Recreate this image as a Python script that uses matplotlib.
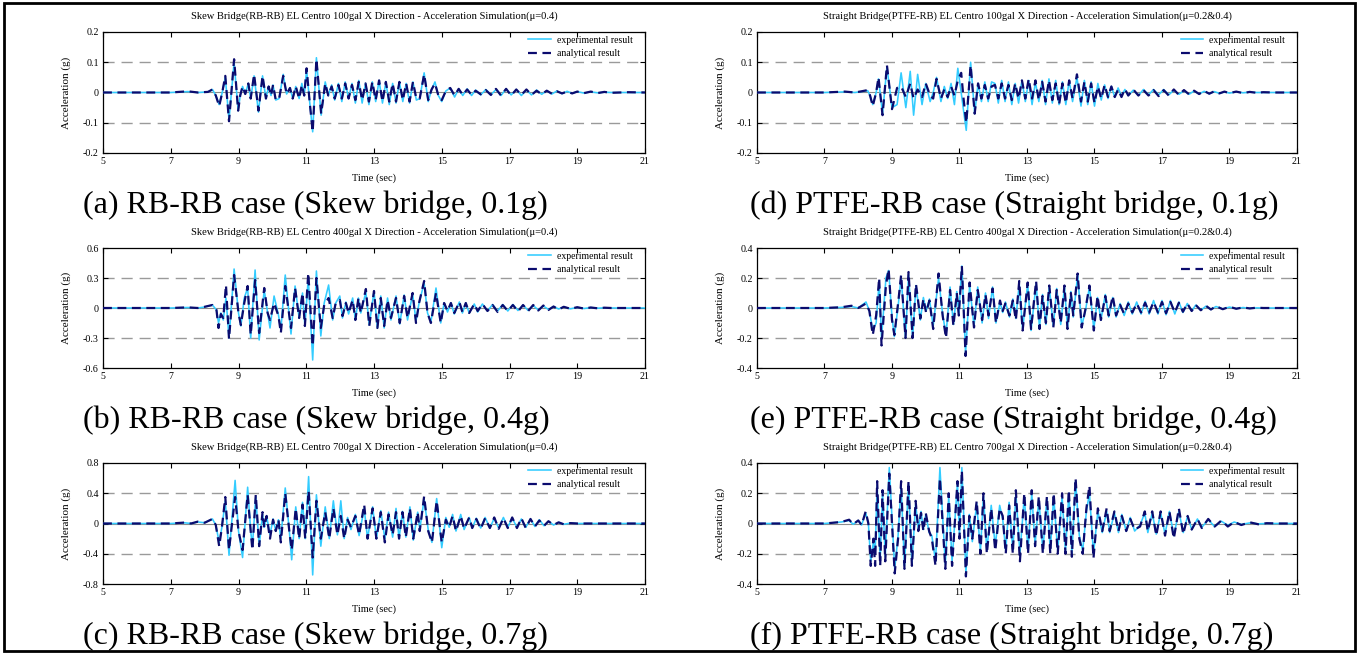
import matplotlib
matplotlib.use('Agg')
import matplotlib.pyplot as plt
from matplotlib.patches import Rectangle

plt.rcParams['font.family'] = ['Liberation Serif', 'DejaVu Serif']
plt.rcParams['axes.unicode_minus'] = False

W, H = 1359, 653

# ---------------- data (extrema) ----------------
# (a) RB-RB, skew, 0.1g
t_a = [5.0, 7.0, 7.5, 7.8, 8.1, 8.23, 8.33, 8.43, 8.52, 8.61,
       8.72, 8.87, 8.99, 9.05, 9.12, 9.2, 9.29, 9.36, 9.46, 9.59,
       9.71, 9.81, 9.89, 9.96, 10.02, 10.1, 10.2, 10.32, 10.42, 10.52,
       10.6, 10.69, 10.79, 10.87, 10.94, 11.01, 11.1, 11.19, 11.3, 11.44,
       11.56, 11.65, 11.75, 11.84, 11.95, 12.05, 12.15, 12.25, 12.35, 12.45,
       12.55, 12.65, 12.75, 12.85, 12.95, 13.05, 13.15, 13.25, 13.35, 13.45,
       13.55, 13.65, 13.75, 13.85, 13.95, 14.05, 14.15, 14.25, 14.35, 14.48,
       14.6, 14.7, 14.8, 14.9, 15.0, 15.12, 15.25, 15.38, 15.5, 15.62,
       15.75, 15.88, 16.0, 16.15, 16.3, 16.45, 16.6, 16.75, 16.9, 17.05,
       17.2, 17.35, 17.5, 17.65, 17.8, 17.95, 18.1, 18.25, 18.4, 18.55,
       18.7, 18.85, 19.0, 19.2, 19.4, 19.6, 19.8, 20.0, 20.5, 21.0]
exp_a = [0, 0, 0.003, 0, 0.002, 0.01, -0.01, -0.04, 0.0, 0.05,
         -0.09, 0.10, -0.06, -0.01, 0.02, -0.005, 0.03, -0.02, 0.055, -0.065,
         0.055, -0.02, 0.02, -0.01, 0.025, -0.025, -0.02, 0.06, -0.005, 0.015,
         -0.02, 0.02, -0.02, 0.03, -0.01, 0.075, -0.03, -0.13, 0.115, -0.075,
         0.035, -0.01, 0.025, -0.025, 0.03, -0.03, 0.035, -0.02, 0.03, -0.035,
         0.04, -0.035, 0.03, -0.04, 0.035, -0.03, 0.04, -0.035, 0.035, -0.04,
         0.03, -0.035, 0.035, -0.03, 0.03, -0.035, 0.035, -0.025, -0.02, 0.065,
         -0.03, 0.01, 0.035, -0.01, -0.03, 0.005, 0.015, -0.015, 0.012, -0.01,
         0.012, -0.01, 0.008, -0.008, 0.01, -0.008, 0.01, -0.01, 0.012, -0.008,
         0.01, -0.01, 0.008, -0.008, 0.008, -0.006, 0.006, -0.005, 0.005, -0.004,
         0.004, -0.003, 0.003, -0.002, 0.002, -0.001, 0.001, 0, 0, 0]
ana_a = [0, 0, 0.004, 0, 0.002, 0.01, -0.01, -0.045, 0.0, 0.055,
         -0.095, 0.11, -0.06, -0.01, 0.02, -0.005, 0.03, -0.02, 0.06, -0.06,
         0.055, -0.02, 0.02, -0.01, 0.025, -0.025, -0.02, 0.055, -0.005, 0.015,
         -0.02, 0.02, -0.02, 0.025, -0.01, 0.08, -0.03, -0.13, 0.11, -0.07,
         0.03, -0.01, 0.02, -0.02, 0.025, -0.02, 0.03, -0.02, 0.025, -0.025,
         0.035, -0.025, 0.03, -0.03, 0.035, -0.025, 0.04, -0.03, 0.035, -0.03,
         0.03, -0.03, 0.035, -0.025, 0.03, -0.03, 0.035, -0.02, -0.02, 0.06,
         -0.025, 0.01, 0.03, -0.01, -0.025, 0.005, 0.015, -0.01, 0.012, -0.008,
         0.01, -0.008, 0.006, -0.006, 0.008, -0.008, 0.012, -0.01, 0.012, -0.01,
         0.01, -0.008, 0.01, -0.008, 0.006, -0.006, 0.006, -0.004, 0.004, -0.003,
         0.003, -0.003, 0.003, -0.002, 0.003, -0.002, 0.002, -0.001, 0.001, 0]

# (b) RB-RB, skew, 0.4g
t_b = [5.0, 7.0, 7.5, 7.8, 8.0, 8.23, 8.35, 8.41, 8.48, 8.55,
       8.63, 8.72, 8.87, 9.0, 9.07, 9.17, 9.27, 9.36, 9.49, 9.61,
       9.76, 9.86, 9.93, 10.05, 10.18, 10.25, 10.38, 10.55, 10.67, 10.79,
       10.89, 10.96, 11.06, 11.19, 11.3, 11.43, 11.53, 11.66, 11.78, 11.87,
       11.99, 12.07, 12.17, 12.25, 12.37, 12.45, 12.54, 12.61, 12.76, 12.86,
       13.0, 13.1, 13.2, 13.3, 13.4, 13.5, 13.65, 13.76, 13.89, 13.99,
       14.14, 14.24, 14.33, 14.48, 14.58, 14.68, 14.83, 14.97, 15.07, 15.17,
       15.27, 15.37, 15.52, 15.61, 15.71, 15.81, 15.96, 16.06, 16.2, 16.35,
       16.5, 16.65, 16.8, 16.95, 17.1, 17.25, 17.4, 17.55, 17.7, 17.85,
       18.0, 18.15, 18.3, 18.45, 18.6, 18.8, 19.0, 19.2, 19.4, 19.6,
       19.8, 20.0, 20.5, 21.0]
exp_b = [0, 0, 0.005, 0, 0.01, 0.03, -0.02, -0.15, -0.05, -0.12,
         0.1, -0.3, 0.39, -0.05, -0.18, 0.1, 0.2, -0.3, 0.38, -0.32,
         0.18, -0.05, -0.2, 0.12, -0.07, -0.22, 0.33, -0.26, 0.22, -0.1,
         0.15, -0.18, 0.3, -0.52, 0.37, -0.28, 0.05, 0.23, -0.12, 0.05,
         0.12, -0.1, 0.06, -0.06, 0.1, -0.12, 0.1, -0.05, 0.16, -0.17,
         0.17, -0.2, 0.12, -0.2, 0.1, -0.12, 0.12, -0.16, 0.13, -0.12,
         0.14, -0.13, 0.05, 0.25, -0.05, -0.14, 0.2, -0.15, 0.05, -0.04,
         0.05, -0.06, 0.06, -0.05, 0.05, -0.05, 0.04, -0.04, 0.04, -0.03,
         0.035, -0.03, 0.035, -0.03, 0.035, -0.025, 0.03, -0.025, 0.025, -0.02,
         0.02, -0.015, 0.015, -0.01, 0.01, -0.008, 0.006, -0.005, 0.004, -0.002,
         0.002, 0, 0, 0]
ana_b = [0, 0, 0.006, 0.0, 0.012, 0.03, -0.02, -0.2, -0.06, -0.1,
         0.23, -0.31, 0.33, -0.05, -0.17, 0.05, 0.22, -0.27, 0.28, -0.25,
         0.2, -0.05, -0.12, 0.05, -0.08, -0.25, 0.22, -0.2, 0.2, -0.1,
         0.15, -0.18, 0.35, -0.38, 0.3, -0.2, 0.03, 0.1, -0.1, 0.05,
         0.08, -0.08, 0.05, -0.05, 0.08, -0.12, 0.1, -0.05, 0.19, -0.18,
         0.17, -0.2, 0.1, -0.18, 0.08, -0.1, 0.1, -0.15, 0.12, -0.1,
         0.15, -0.15, 0.05, 0.27, -0.05, -0.15, 0.15, -0.15, 0.05, -0.03,
         0.05, -0.05, 0.06, -0.04, 0.05, -0.05, 0.04, -0.03, 0.04, -0.03,
         0.03, -0.04, 0.03, -0.03, 0.03, -0.035, 0.03, -0.03, 0.03, -0.025,
         0.025, -0.02, 0.015, -0.015, 0.012, -0.008, 0.008, -0.006, 0.005, -0.003,
         0.003, 0, 0, 0]

# (c) RB-RB, skew, 0.7g
t_c = [5.0, 7.0, 7.4, 7.6, 7.8, 8.0, 8.23, 8.33, 8.43, 8.51,
       8.61, 8.72, 8.9, 9.0, 9.12, 9.27, 9.36, 9.41, 9.51, 9.61,
       9.71, 9.76, 9.83, 9.93, 10.02, 10.1, 10.18, 10.25, 10.38, 10.5,
       10.57, 10.69, 10.79, 10.89, 10.97, 11.07, 11.19, 11.3, 11.43, 11.56,
       11.68, 11.8, 11.92, 12.02, 12.12, 12.22, 12.32, 12.45, 12.56, 12.71,
       12.81, 12.96, 13.07, 13.2, 13.32, 13.43, 13.55, 13.65, 13.74, 13.84,
       13.94, 14.06, 14.16, 14.29, 14.35, 14.48, 14.6, 14.71, 14.85, 15.0,
       15.12, 15.22, 15.32, 15.42, 15.56, 15.66, 15.81, 15.9, 16.02, 16.15,
       16.28, 16.42, 16.55, 16.68, 16.82, 16.95, 17.08, 17.22, 17.35, 17.48,
       17.62, 17.75, 17.88, 18.02, 18.15, 18.3, 18.45, 18.6, 18.8, 19.0,
       19.3, 19.6, 20.0, 20.5, 21.0]
exp_c = [0, 0, 0.01, 0.0, 0.02, 0.01, 0.06, -0.02, -0.25, -0.05,
         0.3, -0.42, 0.57, -0.1, -0.45, 0.48, -0.1, -0.3, 0.35, -0.3,
         0.12, -0.05, 0.1, -0.15, 0.06, -0.1, 0.05, -0.2, 0.47, -0.1,
         -0.48, 0.22, -0.2, 0.28, -0.2, 0.62, -0.68, 0.38, -0.3, 0.22,
         -0.2, 0.3, -0.15, 0.3, -0.2, 0.08, -0.08, 0.12, -0.16, 0.2,
         -0.2, 0.22, -0.2, 0.17, -0.2, 0.15, -0.18, 0.2, -0.2, 0.16,
         -0.18, 0.22, -0.22, 0.15, -0.08, 0.32, -0.08, -0.25, 0.33, -0.32,
         0.08, -0.05, 0.12, -0.1, 0.12, -0.08, 0.08, -0.06, 0.07, -0.06,
         0.08, -0.06, 0.07, -0.06, 0.08, -0.05, 0.07, -0.05, 0.06, -0.05,
         0.06, -0.04, 0.05, -0.03, 0.03, -0.02, 0.015, -0.01, 0.005, 0.0,
         0, 0, 0, 0, 0]
ana_c = [0, 0, 0.012, 0.0, 0.025, 0.01, 0.06, -0.02, -0.3, -0.05,
         0.35, -0.35, 0.35, -0.1, -0.35, 0.38, -0.1, -0.35, 0.38, -0.3,
         0.15, -0.05, 0.1, -0.2, 0.05, -0.1, 0.05, -0.25, 0.4, -0.1,
         -0.35, 0.2, -0.2, 0.25, -0.2, 0.43, -0.45, 0.3, -0.2, 0.15,
         -0.2, 0.2, -0.15, 0.1, -0.2, 0.05, -0.05, 0.1, -0.15, 0.25,
         -0.2, 0.2, -0.2, 0.15, -0.25, 0.12, -0.15, 0.15, -0.2, 0.15,
         -0.18, 0.2, -0.2, 0.15, -0.1, 0.36, -0.1, -0.25, 0.3, -0.25,
         0.05, -0.05, 0.1, -0.1, 0.1, -0.07, 0.08, -0.06, 0.06, -0.07,
         0.07, -0.06, 0.08, -0.07, 0.07, -0.06, 0.08, -0.06, 0.07, -0.06,
         0.06, -0.04, 0.04, -0.03, 0.03, -0.02, 0.015, -0.01, 0.005, 0.0,
         0, 0, 0, 0, 0]

# (d) PTFE-RB, straight, 0.1g
t_d = [5.0, 7.0, 7.6, 7.9, 8.1, 8.28, 8.35, 8.43, 8.53, 8.6,
       8.72, 8.85, 9.0, 9.15, 9.27, 9.41, 9.54, 9.64, 9.76, 9.89,
       10.0, 10.13, 10.22, 10.32, 10.45, 10.55, 10.65, 10.75, 10.85, 10.95,
       11.05, 11.12, 11.2, 11.33, 11.45, 11.55, 11.65, 11.75, 11.85, 11.95,
       12.05, 12.15, 12.25, 12.35, 12.45, 12.55, 12.65, 12.75, 12.85, 12.95,
       13.05, 13.15, 13.25, 13.35, 13.45, 13.55, 13.65, 13.75, 13.85, 13.95,
       14.05, 14.15, 14.25, 14.35, 14.48, 14.6, 14.7, 14.8, 14.9, 15.0,
       15.1, 15.2, 15.3, 15.4, 15.5, 15.6, 15.7, 15.8, 15.9, 16.0,
       16.15, 16.3, 16.45, 16.6, 16.75, 16.9, 17.05, 17.2, 17.35, 17.5,
       17.65, 17.8, 17.95, 18.1, 18.25, 18.4, 18.55, 18.7, 18.85, 19.0,
       19.2, 19.4, 19.6, 19.8, 20.0, 20.3, 20.6, 21.0]
exp_d = [0, 0, 0.002, 0, 0.003, 0.006, -0.01, -0.04, 0.0, 0.045,
         -0.07, 0.085, -0.05, -0.04, 0.065, -0.05, 0.07, -0.075, 0.06, -0.04,
         0.03, -0.03, 0.0, 0.05, -0.03, 0.02, -0.02, 0.03, -0.04, 0.08,
         0.0, -0.06, -0.125, 0.1, -0.07, 0.03, -0.03, 0.035, -0.03, 0.035,
         0.03, -0.035, 0.04, -0.03, 0.035, -0.04, 0.03, -0.035, 0.04, -0.03,
         0.04, -0.04, 0.035, -0.03, 0.04, -0.04, 0.045, -0.035, 0.04, -0.04,
         0.035, -0.04, 0.04, -0.03, 0.05, -0.045, 0.04, -0.04, 0.035, -0.045,
         0.03, -0.025, 0.025, -0.02, 0.02, -0.015, 0.015, -0.012, 0.01, -0.01,
         0.008, -0.01, 0.01, -0.008, 0.01, -0.008, 0.01, -0.008, 0.008, -0.006,
         0.006, -0.006, 0.005, -0.005, 0.004, -0.004, 0.003, -0.003, 0.002, -0.002,
         0.002, -0.001, 0.001, 0, 0, 0, 0, 0]
ana_d = [0, 0, 0.003, 0, 0.004, 0.008, -0.01, -0.045, 0.0, 0.05,
         -0.075, 0.09, -0.055, 0.015, 0.02, -0.015, 0.03, -0.02, 0.01, -0.015,
         0.03, -0.01, -0.02, 0.045, -0.02, 0.01, -0.015, 0.02, -0.01, 0.04,
         0.065, -0.02, -0.1, 0.09, -0.07, 0.03, -0.02, 0.025, -0.02, 0.02,
         0.025, -0.02, 0.03, -0.02, 0.025, -0.025, 0.03, -0.02, 0.04, -0.02,
         0.045, -0.02, 0.04, -0.025, 0.035, -0.03, 0.04, -0.025, 0.03, -0.04,
         0.03, -0.035, 0.04, -0.02, 0.06, -0.03, 0.035, -0.03, 0.03, -0.035,
         0.02, -0.02, 0.025, -0.015, 0.02, -0.015, 0.01, -0.015, 0.012, -0.01,
         0.01, -0.01, 0.008, -0.01, 0.008, -0.012, 0.008, -0.01, 0.01, -0.008,
         0.008, -0.006, 0.006, -0.005, 0.005, -0.004, 0.004, -0.003, 0.003, -0.002,
         0.003, -0.002, 0.002, -0.001, 0.001, 0, 0, 0]

# (e) PTFE-RB, straight, 0.4g
t_e = [5.0, 7.0, 7.5, 7.8, 8.0, 8.23, 8.33, 8.43, 8.53, 8.62,
       8.69, 8.82, 8.9, 9.0, 9.07, 9.19, 9.27, 9.4, 9.49, 9.61,
       9.71, 9.84, 9.93, 10.01, 10.11, 10.22, 10.38, 10.5, 10.6, 10.72,
       10.82, 10.92, 10.98, 11.07, 11.18, 11.3, 11.43, 11.54, 11.67, 11.77,
       11.86, 11.98, 12.08, 12.2, 12.28, 12.36, 12.48, 12.58, 12.67, 12.77,
       12.87, 13.02, 13.12, 13.27, 13.37, 13.46, 13.56, 13.66, 13.78, 13.88,
       14.0, 14.11, 14.2, 14.3, 14.37, 14.5, 14.62, 14.73, 14.85, 14.98,
       15.09, 15.19, 15.32, 15.42, 15.54, 15.64, 15.76, 15.88, 16.0, 16.12,
       16.25, 16.38, 16.5, 16.62, 16.75, 16.88, 17.0, 17.12, 17.25, 17.38,
       17.5, 17.62, 17.75, 17.88, 18.0, 18.15, 18.3, 18.45, 18.6, 18.8,
       19.0, 19.2, 19.4, 19.6, 19.8, 20.0, 20.5, 21.0]
exp_e = [0, 0, 0.004, 0.01, 0.0, 0.04, -0.02, -0.15, -0.1, 0.18,
         -0.2, 0.2, 0.25, -0.06, -0.19, 0.03, 0.21, -0.2, 0.22, -0.2,
         0.15, -0.08, 0.07, -0.02, 0.06, -0.12, 0.2, -0.04, -0.18, 0.14,
         -0.11, 0.11, -0.04, 0.28, -0.3, 0.15, -0.12, 0.14, -0.1, 0.1,
         -0.07, 0.14, -0.1, 0.04, -0.03, 0.04, -0.06, 0.06, -0.07, 0.16,
         -0.14, 0.16, -0.15, 0.16, -0.13, 0.09, -0.11, 0.14, -0.12, 0.13,
         -0.11, 0.14, -0.13, 0.11, -0.06, 0.22, -0.12, -0.02, 0.14, -0.14,
         0.07, -0.08, 0.09, -0.06, 0.07, -0.06, 0.03, -0.05, 0.04, -0.04,
         0.04, -0.04, 0.045, -0.04, 0.05, -0.04, 0.05, -0.045, 0.05, -0.04,
         0.04, -0.03, 0.03, -0.02, 0.02, -0.015, 0.012, -0.01, 0.01, -0.006,
         0.006, -0.004, 0.003, -0.002, 0.001, 0, 0, 0]
ana_e = [0, 0, 0.005, 0.015, 0.0, 0.03, -0.02, -0.18, -0.05, 0.2,
         -0.25, 0.15, 0.26, -0.08, -0.18, 0.05, 0.22, -0.2, 0.24, -0.2,
         0.16, -0.07, 0.06, -0.03, 0.05, -0.14, 0.23, -0.05, -0.2, 0.12,
         -0.12, 0.1, -0.05, 0.28, -0.32, 0.17, -0.13, 0.12, -0.08, 0.09,
         -0.05, 0.13, -0.1, 0.05, -0.02, 0.03, -0.05, 0.05, -0.08, 0.18,
         -0.15, 0.17, -0.14, 0.18, -0.14, 0.08, -0.1, 0.15, -0.13, 0.12,
         -0.1, 0.15, -0.14, 0.1, -0.05, 0.23, -0.13, -0.01, 0.15, -0.15,
         0.08, -0.08, 0.08, -0.05, 0.08, -0.05, 0.02, -0.04, 0.03, -0.03,
         0.03, -0.03, 0.035, -0.03, 0.04, -0.03, 0.04, -0.035, 0.04, -0.03,
         0.035, -0.025, 0.03, -0.02, 0.02, -0.015, 0.015, -0.01, 0.012, -0.008,
         0.008, -0.005, 0.004, -0.003, 0.002, 0, 0, 0]

# (f) PTFE-RB, straight, 0.7g
t_f = [5.0, 7.0, 7.5, 7.73, 7.85, 8.0, 8.1, 8.22, 8.3, 8.37,
       8.45, 8.5, 8.56, 8.65, 8.72, 8.8, 8.92, 9.08, 9.18, 9.27,
       9.37, 9.49, 9.59, 9.7, 9.78, 9.86, 9.93, 10.0, 10.1, 10.18,
       10.29, 10.42, 10.58, 10.68, 10.78, 10.94, 11.0, 11.07, 11.19, 11.29,
       11.38, 11.51, 11.62, 11.71, 11.81, 11.94, 12.06, 12.19, 12.28, 12.37,
       12.47, 12.58, 12.67, 12.79, 12.92, 13.03, 13.14, 13.24, 13.35, 13.47,
       13.59, 13.69, 13.79, 13.91, 14.04, 14.14, 14.24, 14.33, 14.44, 14.55,
       14.65, 14.76, 14.85, 14.97, 15.1, 15.23, 15.36, 15.45, 15.59, 15.71,
       15.81, 15.94, 16.06, 16.19, 16.35, 16.49, 16.58, 16.71, 16.83, 16.96,
       17.09, 17.22, 17.35, 17.5, 17.63, 17.76, 17.88, 18.05, 18.18, 18.37,
       18.56, 18.76, 18.95, 19.14, 19.35, 19.6, 19.85, 20.1, 20.5, 21.0]
exp_f = [0, 0, 0.01, 0.02, -0.005, 0.02, -0.01, 0.07, 0.0, -0.25,
         -0.12, -0.2, 0.25, -0.25, 0.2, -0.22, 0.37, -0.3, -0.08, 0.25,
         -0.28, 0.26, -0.27, 0.13, -0.04, 0.08, -0.04, 0.06, -0.06, -0.08,
         -0.25, 0.37, -0.27, 0.18, -0.25, 0.27, -0.08, 0.37, -0.33, 0.06,
         -0.12, 0.13, -0.18, 0.18, -0.18, 0.12, -0.15, 0.12, 0.03, -0.18,
         0.14, -0.18, 0.2, -0.2, 0.18, -0.18, 0.2, -0.14, 0.16, -0.18,
         0.17, -0.18, 0.18, -0.18, 0.18, -0.18, 0.2, -0.2, 0.28, -0.08,
         -0.18, 0.08, 0.2, -0.2, 0.08, -0.06, 0.08, -0.06, 0.07, -0.06,
         0.06, -0.05, 0.04, -0.05, -0.01, 0.07, -0.06, 0.07, -0.07, 0.07,
         -0.07, 0.08, -0.08, 0.08, -0.06, 0.05, -0.04, 0.03, -0.025, 0.025,
         -0.02, 0.015, -0.012, 0.01, -0.006, 0.004, -0.002, 0.0, 0, 0]
ana_f = [0, 0, 0.01, 0.025, -0.005, 0.02, -0.01, 0.08, 0.0, -0.28,
         -0.1, -0.28, 0.28, -0.28, 0.22, -0.25, 0.33, -0.33, -0.1, 0.28,
         -0.3, 0.28, -0.28, 0.15, -0.05, 0.07, -0.05, 0.07, -0.05, -0.1,
         -0.28, 0.3, -0.3, 0.2, -0.28, 0.28, -0.1, 0.35, -0.35, 0.05,
         -0.1, 0.15, -0.2, 0.2, -0.2, 0.1, -0.18, 0.1, 0.05, -0.2,
         0.12, -0.2, 0.22, -0.25, 0.2, -0.2, 0.22, -0.15, 0.18, -0.2,
         0.18, -0.2, 0.2, -0.2, 0.2, -0.2, 0.22, -0.22, 0.3, -0.1,
         -0.2, 0.1, 0.25, -0.23, 0.1, -0.05, 0.1, -0.05, 0.08, -0.05,
         0.05, -0.05, 0.03, -0.04, -0.02, 0.08, -0.05, 0.08, -0.08, 0.08,
         -0.08, 0.08, -0.1, 0.1, -0.07, 0.05, -0.04, 0.03, -0.03, 0.03,
         -0.02, 0.02, -0.02, 0.01, -0.01, 0.008, -0.005, 0.002, 0, 0]

x_ticks = [5, 7, 9, 11, 13, 15, 17, 19, 21]
yt_01 = [-0.2, -0.1, 0, 0.1, 0.2]
yt_b = [-0.6, -0.3, 0, 0.3, 0.6]
yt_c = [-0.8, -0.4, 0, 0.4, 0.8]
yt_ef = [-0.4, -0.2, 0, 0.2, 0.4]

skew_title = "Skew Bridge(RB-RB) EL Centro {}gal X Direction - Acceleration Simulation(\u03bc=0.4)"
str_title = "Straight Bridge(PTFE-RB) EL Centro {}gal X Direction - Acceleration Simulation(\u03bc=0.2&0.4)"
captions = ["(a) RB-RB case (Skew bridge, 0.1g)", "(b) RB-RB case (Skew bridge, 0.4g)",
            "(c) RB-RB case (Skew bridge, 0.7g)", "(d) PTFE-RB case (Straight bridge, 0.1g)",
            "(e) PTFE-RB case (Straight bridge, 0.4g)", "(f) PTFE-RB case (Straight bridge, 0.7g)"]

# ---------------- layout ----------------
EXP_C = '#33ccff'
ANA_C = '#0b0b6e'

fig = plt.figure(figsize=(W / 100, H / 100), dpi=100)

cols = [(103, 645, 83), (757, 1297, 750)]       # axes left, right, caption x
rows = [(32, 153), (248, 368), (463, 584)]      # axes top, bottom (pixels)

panels = [
    (0, 0, skew_title.format(100), yt_01, t_a, exp_a, ana_a, captions[0]),
    (0, 1, skew_title.format(400), yt_b, t_b, exp_b, ana_b, captions[1]),
    (0, 2, skew_title.format(700), yt_c, t_c, exp_c, ana_c, captions[2]),
    (1, 0, str_title.format(100), yt_01, t_d, exp_d, ana_d, captions[3]),
    (1, 1, str_title.format(400), yt_ef, t_e, exp_e, ana_e, captions[4]),
    (1, 2, str_title.format(700), yt_ef, t_f, exp_f, ana_f, captions[5]),
]

for ci, ri, title, yt, t, ev, av, cap in panels:
    x0, x1, capx = cols[ci]
    y0, y1 = rows[ri]
    ax = fig.add_axes([x0 / W, 1 - y1 / H, (x1 - x0) / W, (y1 - y0) / H])
    ax.set_xlim(5, 21)
    ax.set_ylim(yt[0], yt[-1])
    ax.set_xticks(x_ticks)
    ax.set_yticks(yt)
    ax.set_xticklabels([str(v) for v in x_ticks])
    ax.set_yticklabels([f"{v:g}" for v in yt])
    ax.tick_params(direction='in', length=3.5, width=0.8, top=True, right=True,
                   labelsize=7.2, pad=3)
    for s in ax.spines.values():
        s.set_linewidth(0.9)
        s.set_color('black')
    for v in yt[1:-1]:
        if v == 0:
            ax.axhline(0, color='#8c8c8c', lw=0.8, zorder=1)
        else:
            ax.axhline(v, color='#9a9a9a', lw=1.0, ls=(0, (8, 5)), zorder=1)
    ax.plot(t, ev, color=EXP_C, lw=1.15, zorder=3, label='experimental result')
    ax.plot(t, av, color=ANA_C, lw=1.6, ls=(0, (4, 2.5)), zorder=4, label='analytical result')
    ax.legend(loc='upper left', bbox_to_anchor=(0.785, 0.97),
              frameon=False, fontsize=7, borderpad=0, borderaxespad=0,
              handlelength=2.3, handletextpad=0.6, labelspacing=0.45)
    ax.text(0.5, 1 + 16 / (y1 - y0), title, transform=ax.transAxes, ha='center',
            va='center', fontsize=7.6)
    ax.text(-37 / (x1 - x0), 0.5, 'Acceleration (g)', transform=ax.transAxes,
            rotation=90, ha='center', va='center', fontsize=8)
    ax.text(0.5, -25 / (y1 - y0), 'Time (sec)', transform=ax.transAxes,
            ha='center', va='center', fontsize=7.5)
    fig.text(capx / W, 1 - (y1 + 52) / H, cap, ha='left', va='center', fontsize=23)

# outer frame
fig.patches.append(Rectangle((4 / W, 2 / H), (1355 - 4) / W, (650 - 2) / H,
                             transform=fig.transFigure, fill=False,
                             edgecolor='black', lw=2.0))

fig.savefig('out.png', dpi=100)
